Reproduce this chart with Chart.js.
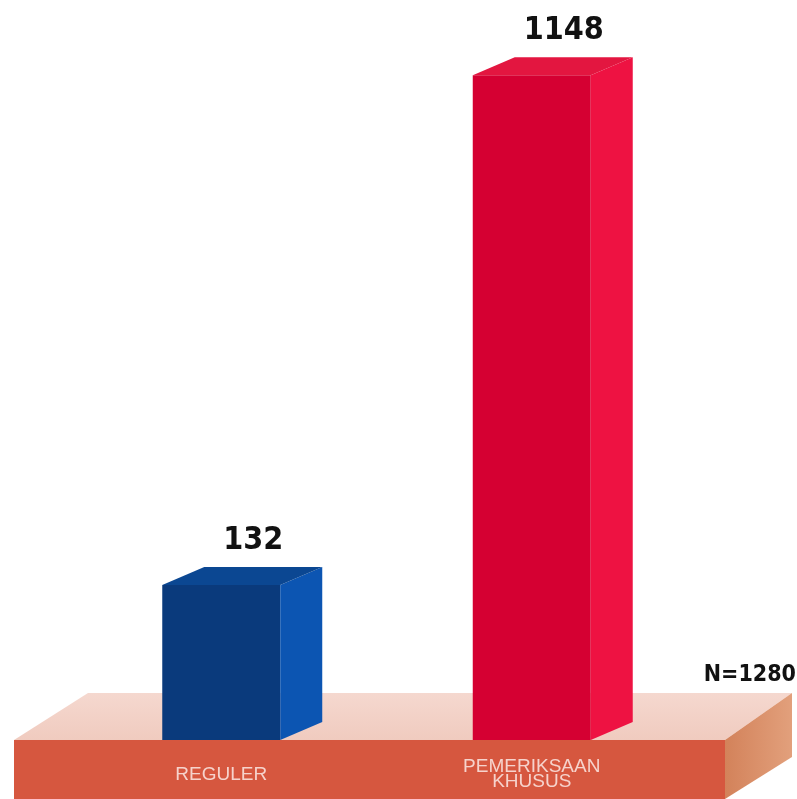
<!DOCTYPE html>
<html lang="id">
<head>
<meta charset="UTF-8">
<title>Reguler vs Pemeriksaan Khusus</title>
<script src="https://cdn.jsdelivr.net/npm/chart.js"></script>
<style>
  body { margin: 0; background: #fff; }
  #wrap { width: 797px; height: 799px; position: relative; }
</style>
</head>
<body>
<div id="wrap"><canvas id="chart"></canvas></div>
<script>
  const categories = ['REGULER', ['PEMERIKSAAN', 'KHUSUS']];
  const counts = [132, 1148];
  const frontColors = ['#0a3a7c', '#d50032'];
  const sideColors = ['#0c55b2', '#ee1242'];
  const topColors = ['#0b4792', '#e31640'];
  const total = counts.reduce((a, b) => a + b, 0);

  // the infographic does not start its bars at zero
  const yMin = -177;
  const yMax = 1250;
  const depth = { x: 42, y: -18 };
  const numFont = '"DejaVu Sans Condensed", "Liberation Sans", Arial, sans-serif';

  // platform under the bars, drawn before the axis labels
  const stage = {
    id: 'stage',
    beforeDraw(chart) {
      const { ctx, chartArea } = chart;
      const y0 = chartArea.bottom;
      const left = 14, right = 725, backLeft = 88, backRight = 792, back = y0 - 47;
      ctx.save();
      const g = ctx.createLinearGradient(0, back, 0, y0);
      g.addColorStop(0, '#f5d8cf');
      g.addColorStop(1, '#f0cbbf');
      ctx.fillStyle = g;
      ctx.beginPath();
      ctx.moveTo(left, y0); ctx.lineTo(right, y0);
      ctx.lineTo(backRight, back); ctx.lineTo(backLeft, back);
      ctx.closePath(); ctx.fill();

      const s = ctx.createLinearGradient(right, 0, backRight, 0);
      s.addColorStop(0, '#d3825a');
      s.addColorStop(1, '#e2a07c');
      ctx.fillStyle = s;
      ctx.beginPath();
      ctx.moveTo(right, y0); ctx.lineTo(backRight, back);
      ctx.lineTo(backRight, back + 64); ctx.lineTo(right, chart.height);
      ctx.closePath(); ctx.fill();

      ctx.fillStyle = '#d6573f';
      ctx.fillRect(left, y0, right - left, chart.height - y0);
      ctx.restore();
    },
    afterDatasetsDraw(chart) {
      const { ctx, chartArea } = chart;
      const bars = chart.getDatasetMeta(0).data;
      ctx.save();
      bars.forEach((bar, i) => {
        const x0 = bar.x - bar.width / 2;
        const x1 = bar.x + bar.width / 2;
        const top = bar.y, bottom = bar.base;
        // side
        ctx.fillStyle = sideColors[i];
        ctx.beginPath();
        ctx.moveTo(x1, top); ctx.lineTo(x1 + depth.x, top + depth.y);
        ctx.lineTo(x1 + depth.x, bottom + depth.y); ctx.lineTo(x1, bottom);
        ctx.closePath(); ctx.fill();
        // top
        ctx.fillStyle = topColors[i];
        ctx.beginPath();
        ctx.moveTo(x0, top); ctx.lineTo(x1, top);
        ctx.lineTo(x1 + depth.x, top + depth.y); ctx.lineTo(x0 + depth.x, top + depth.y);
        ctx.closePath(); ctx.fill();

        ctx.fillStyle = '#111';
        ctx.font = 'bold 32px ' + numFont;
        ctx.textAlign = 'center';
        ctx.textBaseline = 'alphabetic';
        ctx.fillText(counts[i], bar.x + 32, top + depth.y - 18);
      });

      ctx.font = 'bold 23px ' + numFont;
      ctx.textAlign = 'right';
      ctx.fillText('N=' + total, chart.width - 1, chartArea.bottom - 59);
      ctx.restore();
    }
  };

  new Chart(document.getElementById('chart'), {
    type: 'bar',
    data: {
      labels: categories,
      datasets: [{
        data: counts,
        base: yMin,
        backgroundColor: frontColors,
        borderWidth: 0,
        barPercentage: 0.38,
        categoryPercentage: 1
      }]
    },
    options: {
      responsive: true,
      maintainAspectRatio: false,
      animation: false,
      layout: { padding: { top: 24, left: 66, right: 110, bottom: 0 } },
      plugins: { legend: { display: false }, tooltip: { enabled: false } },
      scales: {
        y: { display: false, min: yMin, max: yMax },
        x: {
          grid: { display: false, drawTicks: false },
          border: { display: false },
          afterFit(scale) { scale.height = 59; },
          ticks: {
            color: '#f6d3cc',
            padding: 27,
            crossAlign: 'center',
            maxRotation: 0,
            autoSkip: false,
            font: { family: '"Liberation Sans", Arial, sans-serif', size: 19, lineHeight: 0.8 }
          }
        }
      }
    },
    plugins: [stage]
  });
</script>
</body>
</html>
